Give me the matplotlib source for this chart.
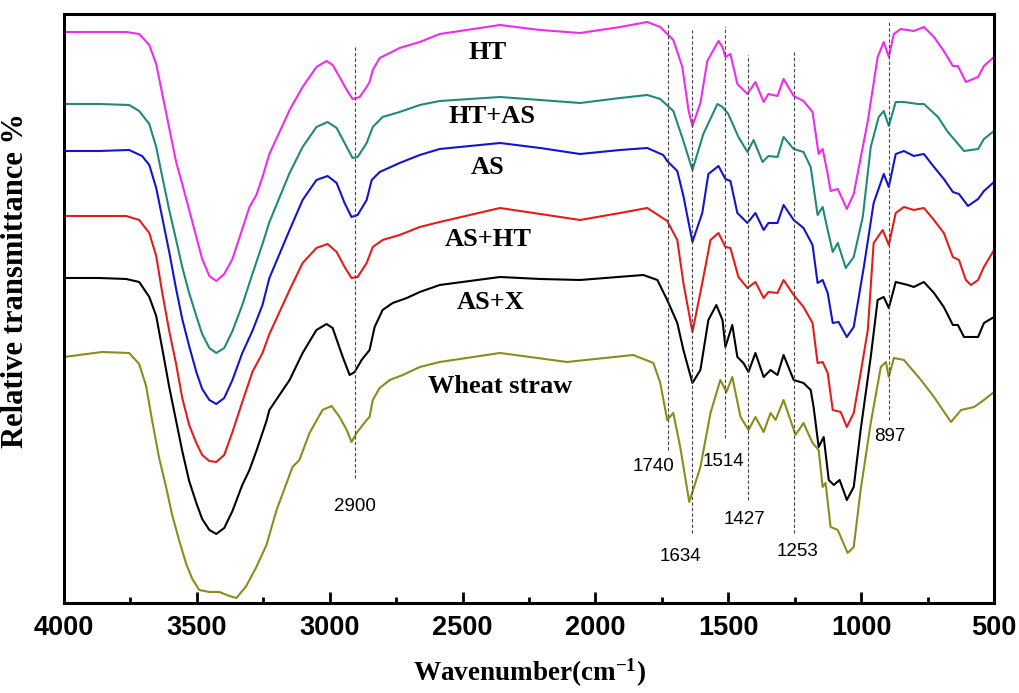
import matplotlib
matplotlib.use("Agg")
import matplotlib.pyplot as plt
from matplotlib.ticker import MultipleLocator

plt.rcParams["mathtext.fontset"] = "custom"
plt.rcParams["mathtext.rm"] = "Liberation Serif:bold"
plt.rcParams["mathtext.bf"] = "Liberation Serif:bold"
plt.rcParams["mathtext.it"] = "Liberation Serif:bold"

# FTIR spectra, wavenumber (cm-1) and relative transmittance (a.u., stacked)
ht_w = [4000, 3868, 3766, 3717, 3679, 3653, 3630, 3604, 3578, 3555, 3529, 3502, 3480, 3453, 3427, 3397,
        3366, 3329, 3302, 3276, 3253, 3227, 3151, 3102, 3050, 3012, 2989, 2963, 2936, 2914, 2887, 2861,
        2850, 2838, 2812, 2774, 2737, 2661, 2586, 2359, 2208, 2058, 1907,
        1805, 1756, 1707, 1673, 1650, 1635, 1605, 1579, 1537, 1522, 1511, 1492, 1466, 1428, 1398, 1367,
        1349, 1315, 1292, 1254, 1217, 1183, 1160, 1145, 1126, 1115, 1088, 1054, 1028, 975, 938, 915,
        896, 877, 851, 802, 764, 726, 689, 655, 636, 606, 560, 538, 500]
ht_t = [571, 571, 571, 569, 558, 539, 509, 475, 441, 419, 393, 366, 344, 327, 322, 329,
        344, 374, 396, 408, 426, 449, 493, 516, 536, 542, 538, 526, 513, 504, 506, 516,
        521, 533, 545, 550, 555, 561, 569, 578, 573, 570, 576,
        581, 576, 563, 536, 493, 477, 500, 542, 562, 556, 546, 549, 519, 509, 521, 501,
        509, 507, 524, 507, 502, 491, 449, 454, 429, 412, 414, 394, 409, 482, 546, 561,
        546, 569, 574, 572, 576, 566, 552, 537, 537, 521, 526, 537, 546]

htas_w = [4000, 3868, 3755, 3717, 3679, 3653, 3630, 3604, 3578, 3555, 3529, 3502, 3480, 3453, 3427, 3397,
          3366, 3329, 3291, 3253, 3227, 3151, 3102, 3050, 3008, 2974, 2944, 2914, 2895, 2861, 2838, 2801,
          2737, 2661, 2586, 2359, 2208, 2058, 1907, 1805, 1756, 1707,
          1669, 1635, 1594, 1541, 1522, 1500, 1462, 1428, 1405, 1371, 1349, 1315, 1292, 1254, 1217, 1190,
          1164, 1145, 1126, 1107, 1088, 1058, 1028, 994, 964, 934, 915, 896, 870, 839, 787, 764,
          711, 674, 651, 613, 560, 538, 500]
htas_t = [499, 499, 498, 492, 479, 456, 426, 393, 363, 336, 310, 287, 269, 255, 250, 255,
          272, 298, 329, 359, 381, 430, 456, 476, 481, 475, 460, 445, 446, 460, 476, 486,
          491, 498, 502, 506, 503, 500, 505, 508, 504, 492,
          462, 433, 469, 499, 496, 489, 466, 451, 463, 441, 447, 446, 466, 454, 451, 436,
          388, 396, 373, 351, 360, 335, 346, 386, 456, 486, 492, 477, 501, 501, 499, 499,
          486, 471, 464, 452, 454, 464, 472]

as_w = [4000, 3868, 3755, 3706, 3679, 3653, 3630, 3604, 3578, 3555, 3529, 3502, 3480, 3453, 3427, 3397,
        3366, 3329, 3291, 3253, 3227, 3151, 3102, 3050, 3008, 2974, 2944, 2918, 2895, 2861, 2842, 2812,
        2737, 2661, 2586, 2359, 2208, 2058, 1907, 1805,
        1745, 1730, 1692, 1669, 1635, 1598, 1575, 1537, 1511, 1492, 1466, 1428, 1398, 1367, 1349, 1315,
        1292, 1254, 1217, 1183, 1164, 1145, 1126, 1107, 1085, 1054, 1028, 990, 953, 915, 896, 870,
        839, 802, 764, 726, 689, 655, 632, 598, 560, 538, 500]
as_t = [452, 452, 453, 447, 438, 415, 385, 351, 314, 284, 257, 231, 214, 203, 199, 205,
        223, 250, 272, 298, 325, 373, 403, 423, 427, 420, 400, 386, 388, 403, 423, 431,
        440, 448, 454, 460, 455, 449, 453, 455,
        448, 442, 432, 407, 361, 390, 429, 437, 424, 422, 390, 380, 390, 373, 380, 380,
        398, 383, 375, 358, 320, 323, 310, 280, 281, 266, 276, 336, 400, 429, 416, 449,
        452, 447, 449, 436, 424, 411, 409, 397, 404, 412, 421]

asht_w = [4000, 3868, 3766, 3717, 3679, 3653, 3630, 3604, 3578, 3555, 3529, 3502, 3480, 3453, 3427, 3397,
          3366, 3329, 3291, 3253, 3227, 3151, 3102, 3050, 3008, 2974, 2944, 2918, 2895, 2861, 2838, 2801,
          2737, 2661, 2586, 2359, 2208, 2058, 1907,
          1805, 1730, 1692, 1669, 1635, 1598, 1567, 1537, 1511, 1492, 1462, 1428, 1398, 1367, 1349, 1315,
          1292, 1254, 1217, 1183, 1164, 1145, 1126, 1107, 1077, 1054, 1028, 1002, 975, 953, 919, 896,
          870, 839, 802, 764, 726, 689, 655, 632, 606, 587, 560, 538, 500]
asht_t = [387, 387, 387, 383, 370, 347, 310, 272, 239, 205, 178, 160, 148, 142, 141, 148,
          171, 201, 231, 250, 269, 313, 340, 355, 359, 351, 336, 325, 326, 340, 356, 363,
          368, 376, 381, 395, 389, 383, 390,
          395, 382, 363, 320, 271, 320, 363, 370, 356, 355, 326, 315, 321, 305, 311, 310,
          323, 308, 296, 280, 240, 241, 230, 193, 191, 176, 190, 230, 273, 360, 373, 358,
          390, 396, 393, 395, 383, 370, 346, 343, 323, 318, 323, 336, 353]

asx_w = [4000, 3868, 3766, 3717, 3679, 3653, 3630, 3604, 3578, 3555, 3529, 3502, 3480, 3453, 3427, 3397,
         3366, 3329, 3302, 3276, 3238, 3227, 3151, 3102, 3050, 3012, 2989, 2951, 2925, 2906, 2880, 2850,
         2831, 2801, 2763, 2710, 2661, 2586, 2359, 2208, 2058, 1820,
         1767, 1730, 1692, 1669, 1635, 1605, 1575, 1545, 1522, 1511, 1485, 1466, 1443, 1424, 1398, 1367,
         1341, 1315, 1292, 1254, 1217, 1190, 1179, 1160, 1141, 1122, 1103, 1081, 1054, 1028, 1002, 964,
         938, 915, 896, 870, 824, 802, 764, 726, 689, 655, 636, 613, 560, 538, 500]
asx_t = [325, 325, 324, 321, 306, 287, 254, 216, 182, 152, 122, 100, 84, 73, 69, 75,
         92, 118, 133, 152, 182, 193, 223, 250, 273, 279, 275, 246, 228, 231, 243, 253,
         276, 293, 300, 305, 311, 318, 326, 324, 323, 328,
         323, 303, 280, 253, 220, 233, 283, 298, 283, 256, 278, 246, 240, 231, 250, 226,
         233, 228, 248, 223, 220, 213, 196, 156, 166, 123, 118, 123, 103, 116, 173, 246,
         303, 306, 295, 321, 318, 316, 321, 310, 296, 278, 278, 266, 266, 280, 286]

ws_w = [4000, 3857, 3755, 3717, 3691, 3668, 3642, 3615, 3593, 3566, 3540, 3517, 3491, 3453, 3415, 3378,
        3351, 3314, 3276, 3238, 3200, 3140, 3114, 3076, 3027, 2993, 2963, 2936, 2918, 2899, 2861, 2850,
        2838, 2812, 2774, 2725, 2661, 2586, 2359, 2107, 1858,
        1782, 1756, 1730, 1707, 1681, 1647, 1605, 1567, 1530, 1507, 1485, 1454, 1424, 1398, 1367, 1341,
        1322, 1292, 1247, 1217, 1183, 1160, 1145, 1134, 1115, 1088, 1051, 1028, 1002, 964, 926, 907,
        896, 877, 839, 775, 726, 662, 624, 575, 538, 500]
ws_t = [246, 251, 250, 239, 217, 182, 145, 115, 88, 62, 39, 24, 13, 11, 11, 7,
        5, 17, 36, 58, 93, 136, 143, 170, 193, 197, 186, 173, 161, 170, 183, 186,
        203, 215, 223, 228, 236, 241, 250, 241, 248,
        240, 220, 183, 190, 156, 101, 136, 190, 223, 211, 226, 186, 173, 186, 171, 190,
        183, 203, 168, 180, 160, 153, 116, 120, 76, 73, 50, 56, 113, 180, 236, 241,
        226, 245, 243, 223, 206, 181, 193, 196, 203, 211]

# marked bands: label, line position, line bottom/top
band_labels = ["2900", "1740", "1634", "1514", "1427", "1253", "897"]
band_pos = [2905, 1728, 1636, 1513, 1425, 1251, 896]
band_low = [125, 153, 70, 165, 103, 70, 183]
band_high = [556, 580, 573, 577, 548, 553, 583]

sample_names = ["HT", "HT+AS", "AS", "AS+HT", "AS+X", "Wheat straw"]
colors = ["#ee2bee", "#1f8a7c", "#1414cc", "#e41c1c", "#000000", "#8c8c1c"]

fig = plt.figure(figsize=(10.19, 6.93), dpi=100)
ax = fig.add_axes([0.0628, 0.1299, 0.9127, 0.8499])

spectra = [(ht_w, ht_t), (htas_w, htas_t), (as_w, as_t), (asht_w, asht_t), (asx_w, asx_t), (ws_w, ws_t)]
for (w, t), c in zip(spectra, colors):
    ax.plot(w, t, color=c, lw=1.5)

ax.vlines(band_pos, band_low, band_high, colors="#444444", linestyles=(0, (3, 2)), lw=0.8)

# sample names next to the curves
name_xy = [(2405, 550), (2390, 486), (2405, 435), (2405, 363), (2393, 300), (2360, 216)]
for name, (x, y) in zip(sample_names, name_xy):
    ax.text(x, y, name, ha="center", va="center", fontsize=19, fontweight="bold",
            family="Liberation Serif")

label_xy = [(2906, 96), (1782, 136), (1681, 46), (1518, 141), (1439, 83), (1239, 51), (892, 166)]
for lab, (x, y) in zip(band_labels, label_xy):
    ax.text(x, y, lab, ha="center", va="center", fontsize=13.5, family="Liberation Sans")

ax.set_xlim(4000, 500)
ax.set_ylim(0, 589)
ax.set_yticks([])
ax.xaxis.set_major_locator(MultipleLocator(500))
ax.xaxis.set_minor_locator(MultipleLocator(250))
ax.tick_params(axis="x", which="major", direction="in", length=8, width=2, pad=9, top=False)
ax.tick_params(axis="x", which="minor", direction="in", length=4, width=2, top=False)
for lab in ax.get_xticklabels():
    lab.set_fontsize(19.5)
    lab.set_fontweight("bold")
    lab.set_family("Liberation Sans")
for s in ax.spines.values():
    s.set_linewidth(2.2)

ax.set_xlabel("Wavenumber(cm$^{-1}$)", fontsize=19.5, fontweight="bold",
              family="Liberation Serif", labelpad=11)
ax.set_ylabel("Relative transmittance %", fontsize=22, fontweight="bold", family="Liberation Serif")
ax.yaxis.set_label_coords(-0.037, 0.547)

fig.savefig("out.png", dpi=100)
